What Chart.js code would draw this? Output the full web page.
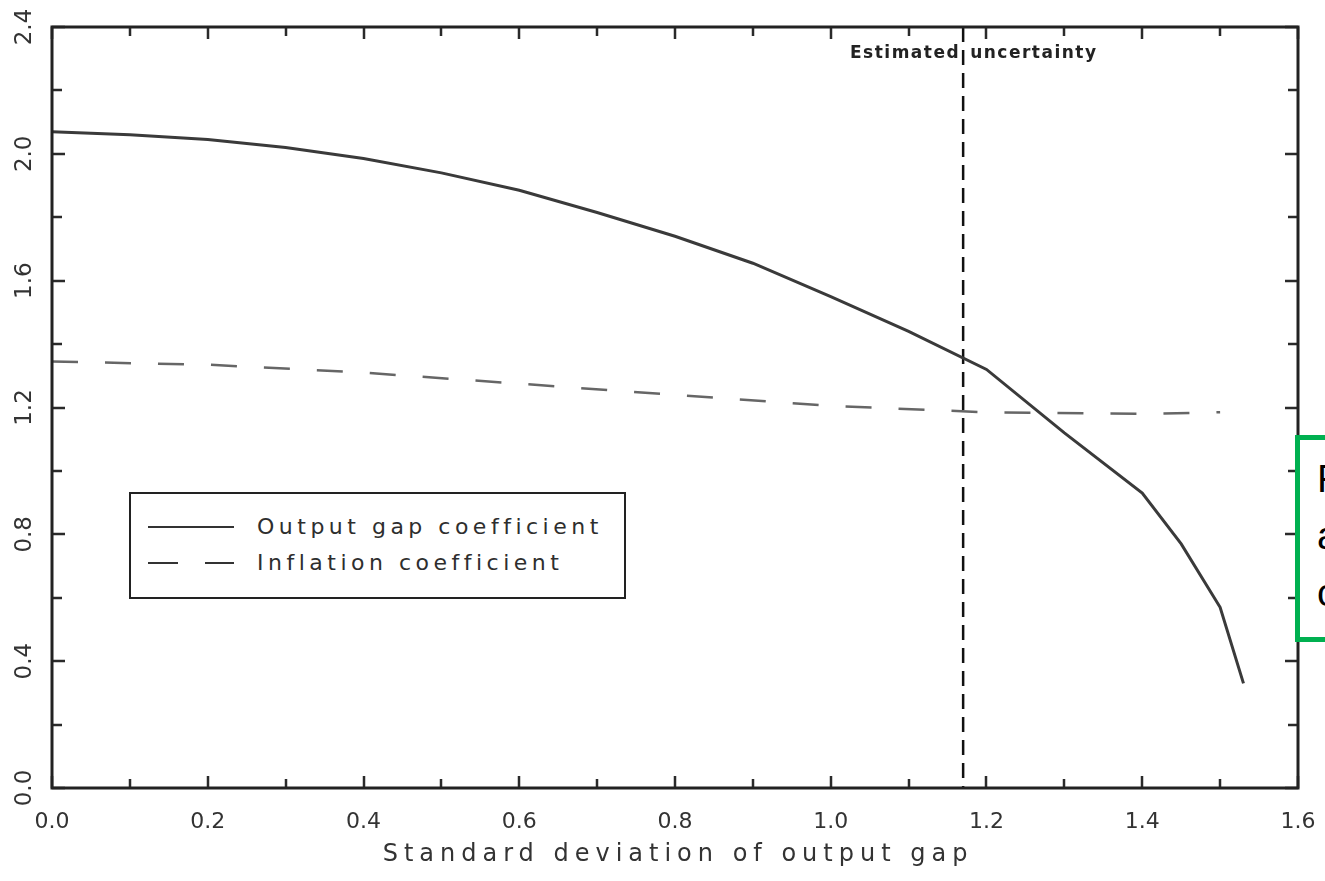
<!DOCTYPE html>
<html>
<head>
<meta charset="utf-8">
<script src="https://cdn.jsdelivr.net/npm/chart.js@4.4.1/dist/chart.umd.min.js"></script>
<style>
  html, body { margin: 0; padding: 0; background: #fff; }
  #wrap { position: relative; width: 1325px; height: 881px; overflow: hidden; }
  #legendBox {
    position: absolute; left: 129px; top: 492px; width: 493px; height: 103px;
    border: 2.5px solid #222; background: #fff;
    font: 22px "DejaVu Sans"; letter-spacing: 4.5px; color: #2e2e2e;
  }
  .row { position: absolute; left: 0; width: 100%; height: 30px; }
  .seg { position: absolute; top: 14px; height: 0; border-top: 2.5px solid #333; }
  .txt { position: absolute; left: 126px; top: 0; line-height: 30px; white-space: nowrap; }
  #note {
    position: absolute; left: 1295px; top: 435px; width: 80px; height: 187px;
    border: 5px solid #00b050; background: #fff;
    font: 39px "Liberation Sans"; line-height: 57px; color: #000;
    padding: 10px 0 0 17px; box-sizing: content-box;
  }
</style>
</head>
<body>
<div id="wrap">
  <canvas id="myChart"></canvas>
  <div id="legendBox"></div>
  <div id="note">F<br>a<br>c</div>
</div>
<script>
// output gap coefficient (solid)
let gapX = [0.0, 0.1, 0.2, 0.3, 0.4, 0.5, 0.6, 0.7, 0.8, 0.9, 1.0, 1.1, 1.2, 1.3, 1.4, 1.45, 1.5, 1.53];
let gapY = [2.07, 2.06, 2.045, 2.02, 1.985, 1.94, 1.885, 1.815, 1.74, 1.655, 1.55, 1.44, 1.32, 1.12, 0.93, 0.77, 0.57, 0.33];

// inflation coefficient (dashed)
let inflX = [0.0, 0.2, 0.4, 0.6, 0.8, 1.0, 1.2, 1.4, 1.5];
let inflY = [1.345, 1.335, 1.31, 1.275, 1.24, 1.205, 1.185, 1.18, 1.185];

// estimated uncertainty marker
let uncertainty = 1.17;

let xTicks = ['0.0', '0.2', '0.4', '0.6', '0.8', '1.0', '1.2', '1.4', '1.6'];
let yTicks = ['0.0', '0.4', '0.8', '1.2', '1.6', '2.0', '2.4'];

function pts(xs, ys) {
    return xs.map((v, i) => ({x: v, y: ys[i]}));
}

// inward tick marks, box, annotation and x title
const frame = {
    id: 'frame',
    afterDraw(chart) {
        const {ctx, chartArea: a, scales: {x, y}} = chart;
        ctx.save();
        ctx.strokeStyle = '#2a2a2a';
        ctx.lineWidth = 2.5;
        ctx.beginPath();
        x.ticks.forEach(t => {
            const px = Math.round(x.getPixelForValue(t.value));
            const len = Math.round(t.value * 10) % 2 === 0 ? 12 : 9;
            ctx.moveTo(px, a.bottom); ctx.lineTo(px, a.bottom - len);
            ctx.moveTo(px, a.top); ctx.lineTo(px, a.top + len);
        });
        y.ticks.forEach(t => {
            const py = Math.round(y.getPixelForValue(t.value));
            const len = Math.round(t.value * 10) % 4 === 0 ? 13 : 10;
            ctx.moveTo(a.left, py); ctx.lineTo(a.left + len, py);
            ctx.moveTo(a.right, py); ctx.lineTo(a.right - len, py);
        });
        ctx.stroke();
        ctx.lineWidth = 3;
        ctx.strokeStyle = '#222';
        ctx.strokeRect(a.left, a.top, a.right - a.left, a.bottom - a.top);

        const ux = x.getPixelForValue(uncertainty);
        ctx.fillStyle = '#222';
        ctx.font = 'bold 17px "DejaVu Sans"';
        ctx.letterSpacing = '1.5px';
        ctx.textBaseline = 'middle';
        ctx.textAlign = 'right';
        ctx.fillText('Estimated', ux - 3, 54);
        ctx.textAlign = 'left';
        ctx.fillText('uncertainty', ux + 7, 54);

        ctx.fillStyle = '#333';
        ctx.font = '24px "DejaVu Sans"';
        ctx.letterSpacing = '6px';
        ctx.textAlign = 'center';
        ctx.fillText('Standard deviation of output gap', (a.left + a.right) / 2 + 3, 855);
        ctx.restore();
    }
};

const ctx = document.getElementById('myChart');
const graph = new Chart(ctx, {
    type: 'line',
    data: {
        datasets: [{
            label: 'Output gap coefficient',
            data: pts(gapX, gapY),
            borderColor: '#3a3a3a',
            borderWidth: 3,
            pointRadius: 0,
            tension: 0
        }, {
            label: 'Inflation coefficient',
            data: pts(inflX, inflY),
            borderColor: '#666',
            borderWidth: 2.5,
            borderDash: [26, 27],
            pointRadius: 0,
            tension: 0
        }, {
            label: 'Estimated uncertainty',
            data: pts([uncertainty, uncertainty], [2.4, 0]),
            borderColor: '#111',
            borderWidth: 2.5,
            borderDash: [15, 8],
            pointRadius: 0
        }]
    },
    options: {
        responsive: true,
        maintainAspectRatio: false,
        animation: false,
        layout: { padding: { top: 27, right: 27, left: 0, bottom: 0 } },
        plugins: { legend: { display: false }, tooltip: { enabled: false } },
        scales: {
            x: {
                type: 'linear',
                min: 0, max: 1.6,
                grid: { display: false },
                border: { display: false },
                afterFit: s => { s.height = 93; s.paddingLeft = 0; s.paddingRight = 0; },
                ticks: {
                    stepSize: 0.1,
                    autoSkip: false,
                    maxRotation: 0,
                    padding: 13,
                    color: '#333',
                    font: { family: 'DejaVu Sans', size: 22 },
                    callback: v => {
                        const lbl = (+v).toFixed(1);
                        return xTicks.includes(lbl) ? lbl : '';
                    }
                }
            },
            y: {
                min: 0, max: 2.4,
                grid: { display: false },
                border: { display: false },
                afterFit: s => { s.width = 52; s.paddingTop = 0; s.paddingBottom = 0; },
                ticks: {
                    stepSize: 0.2,
                    autoSkip: false,
                    minRotation: 90,
                    maxRotation: 90,
                    crossAlign: 'center',
                    padding: 1,
                    color: '#333',
                    font: { family: 'DejaVu Sans', size: 23 },
                    callback: v => {
                        const lbl = (+v).toFixed(1);
                        return yTicks.includes(lbl) ? lbl : '';
                    }
                }
            }
        }
    },
    plugins: [frame]
});

// legend box built from the first two datasets
const legendBox = document.getElementById('legendBox');
graph.data.datasets.slice(0, 2).forEach((ds, i) => {
    const row = document.createElement('div');
    row.className = 'row';
    row.style.top = (18 + i * 36) + 'px';
    const segs = ds.borderDash ? [[17, 30], [74, 29]] : [[17, 86]];
    segs.forEach(([l, w]) => {
        const s = document.createElement('div');
        s.className = 'seg';
        s.style.left = l + 'px';
        s.style.width = w + 'px';
        row.appendChild(s);
    });
    const t = document.createElement('div');
    t.className = 'txt';
    t.textContent = ds.label;
    row.appendChild(t);
    legendBox.appendChild(row);
});
</script>
</body>
</html>
